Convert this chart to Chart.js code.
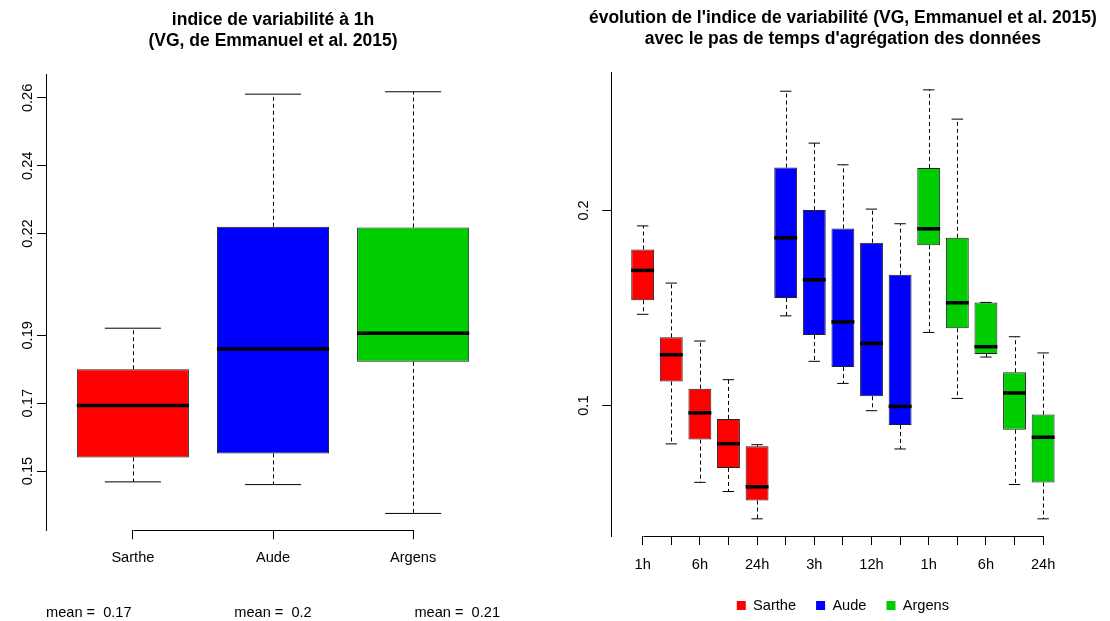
<!DOCTYPE html>
<html lang="fr">
<head>
<meta charset="UTF-8">
<title>Indice de variabilité</title>
<script src="https://cdn.jsdelivr.net/npm/chart.js"></script>
<style>
  body { margin: 0; background: #fff; }
  .row { position: relative; width: 1110px; height: 621px; overflow: hidden; }
  .panel { position: absolute; top: 0; width: 555px; height: 621px; }
  #left { left: 0; }
  #right { left: 555px; }
</style>
</head>
<body>
<div class="row">
  <div class="panel" id="left"><canvas id="chart1h"></canvas></div>
  <div class="panel" id="right"><canvas id="chartSteps"></canvas></div>
</div>
<script>
const rivers = ['Sarthe', 'Aude', 'Argens'];
const steps = ['1h', '3h', '6h', '12h', '24h'];

// five-number summaries per aggregation step: whisker low, Q1, median, Q3, whisker high
const sartheLow  = [0.1468, 0.0804, 0.0607, 0.0560, 0.0420];
const sartheQ1   = [0.1540, 0.1124, 0.0826, 0.0681, 0.0514];
const sartheMed  = [0.1693, 0.1261, 0.0963, 0.0805, 0.0584];
const sartheQ3   = [0.1800, 0.1350, 0.1087, 0.0932, 0.0792];
const sartheHigh = [0.1921, 0.1628, 0.1331, 0.1133, 0.0800];

const audeLow  = [0.1460, 0.1227, 0.1114, 0.0974, 0.0778];
const audeQ1   = [0.1552, 0.1362, 0.1198, 0.1048, 0.0901];
const audeMed  = [0.1860, 0.1645, 0.1429, 0.1319, 0.0996];
const audeQ3   = [0.2220, 0.2002, 0.1908, 0.1835, 0.1671];
const audeHigh = [0.2611, 0.2345, 0.2234, 0.2007, 0.1932];

const argensLow  = [0.1375, 0.1037, 0.1249, 0.0596, 0.0420];
const argensQ1   = [0.1822, 0.1396, 0.1265, 0.0876, 0.0606];
const argensMed  = [0.1906, 0.1527, 0.1302, 0.1065, 0.0838];
const argensQ3   = [0.2218, 0.1860, 0.1529, 0.1171, 0.0954];
const argensHigh = [0.2618, 0.2468, 0.1529, 0.1353, 0.1270];

const means1h = [0.17, 0.2, 0.21];
const ticks1h = [0.15, 0.17, 0.19, 0.22, 0.24, 0.26];
const ticksSteps = [0.1, 0.2];

const riverColors = ['#ff0000', '#0000ff', '#00cd00'];
const FONT = "'Liberation Sans', Arial, Helvetica, sans-serif";

Chart.defaults.font.family = FONT;
Chart.defaults.font.size = 14.6;
Chart.defaults.color = '#000';

const stats = [
  {low: sartheLow, q1: sartheQ1, med: sartheMed, q3: sartheQ3, high: sartheHigh},
  {low: audeLow, q1: audeQ1, med: audeMed, q3: audeQ3, high: audeHigh},
  {low: argensLow, q1: argensQ1, med: argensMed, q3: argensQ3, high: argensHigh}
];

// R-style axis range: data range stretched by 4% on each side
function paddedRange(lows, highs) {
  const lo = Math.min(...lows), hi = Math.max(...highs);
  const pad = (hi - lo) * 0.04;
  return {min: lo - pad, max: hi + pad};
}

// title and legend are centred over the plot region, not the whole canvas
const centreOverPlot = {
  id: 'centreOverPlot',
  afterLayout(chart) {
    const mid = (chart.chartArea.left + chart.chartArea.right) / 2;
    [chart.titleBlock, chart.legend].forEach(box => {
      if (!box) return;
      const shift = mid - (box.left + box.right) / 2;
      box.left += shift;
      box.right += shift;
    });
  }
};

// whiskers (dashed), staples and median bars on top of the floating bars
const boxWhiskers = {
  id: 'boxWhiskers',
  afterDatasetsDraw(chart) {
    const ctx = chart.ctx;
    const y = chart.scales.y;
    const seg = (x0, y0, x1, y1) => {
      ctx.beginPath();
      ctx.moveTo(x0, y0);
      ctx.lineTo(x1, y1);
      ctx.stroke();
    };
    ctx.save();
    ctx.strokeStyle = '#000';
    chart.data.datasets.forEach((ds, di) => {
      chart.getDatasetMeta(di).data.forEach((bar, i) => {
        const {x, width} = bar.getProps(['x', 'width'], true);
        const pLow = y.getPixelForValue(ds.low[i]);
        const pQ1 = y.getPixelForValue(ds.data[i].y[0]);
        const pQ3 = y.getPixelForValue(ds.data[i].y[1]);
        const pHigh = y.getPixelForValue(ds.high[i]);
        const pMed = y.getPixelForValue(ds.med[i]);
        const cx = Math.round(x) + 0.5;
        ctx.lineWidth = 1;
        ctx.setLineDash([4, 3]);
        seg(cx, pQ3, cx, pHigh);
        seg(cx, pQ1, cx, pLow);
        ctx.setLineDash([]);
        seg(x - width / 4, pHigh, x + width / 4, pHigh);
        seg(x - width / 4, pLow, x + width / 4, pLow);
        ctx.lineWidth = 3.5;
        seg(x - width / 2, pMed, x + width / 2, pMed);
      });
    });
    ctx.restore();
  }
};

// x axis line runs from the first tick to the last one only
const xAxisLine = {
  id: 'xAxisLine',
  afterDraw(chart) {
    const s = chart.scales.x;
    const t = s.ticks;
    const x0 = s.getPixelForValue(t[0].value);
    const x1 = s.getPixelForValue(t[t.length - 1].value);
    const yy = Math.round(s.top) + 0.5;
    const ctx = chart.ctx;
    ctx.save();
    ctx.strokeStyle = '#000';
    ctx.lineWidth = 1;
    ctx.beginPath();
    ctx.moveTo(Math.round(x0) + 0.5, yy);
    ctx.lineTo(Math.round(x1) + 0.5, yy);
    ctx.stroke();
    ctx.restore();
  }
};

// "mean = ..." notes under the left panel
const meanLabels = {
  id: 'meanLabels',
  afterDraw(chart) {
    const {left, right, bottom} = chart.chartArea;
    const spots = [[left, 'left'], [(left + right) / 2, 'center'], [right, 'right']];
    const ctx = chart.ctx;
    ctx.save();
    ctx.font = '14.6px ' + FONT;
    ctx.fillStyle = '#000';
    ctx.textBaseline = 'alphabetic';
    means1h.forEach((m, i) => {
      ctx.textAlign = spots[i][1];
      ctx.fillText('mean =  ' + m, spots[i][0], bottom + 86.4);
    });
    ctx.restore();
  }
};

function yAxis(range, tickValues, width, pad) {
  return {
    min: range.min,
    max: range.max,
    bounds: 'data',
    afterBuildTicks: s => { s.ticks = tickValues.map(v => ({value: v})); },
    afterFit: s => { s.width = width; },
    ticks: {minRotation: 90, maxRotation: 90, crossAlign: 'center', padding: pad, callback: v => String(v)},
    grid: {drawOnChartArea: false, tickLength: 9, color: '#000'},
    border: {display: true, color: '#000', width: 1}
  };
}

function xAxis(n, names, height, pad, every) {
  const positions = names.map((_, i) => i + 1);
  return {
    type: 'linear',
    min: 0.5 - 0.04 * n,
    max: n + 0.5 + 0.04 * n,
    bounds: 'data',
    offset: false,
    afterBuildTicks: s => { s.ticks = positions.map(v => ({value: v})); },
    afterFit: s => { s.height = height; },
    ticks: {autoSkip: false, maxRotation: 0, padding: pad,
      callback: (v, i) => (i % every === 0 ? names[i] : '')},
    grid: {drawOnChartArea: false, offset: false, tickLength: 9, color: '#000'},
    border: {display: false}
  };
}

// left panel: the three rivers at 1h
const range1h = paddedRange(stats.map(s => s.low[0]), stats.map(s => s.high[0]));
new Chart(document.getElementById('chart1h'), {
  type: 'bar',
  data: {
    datasets: [{
      label: '1h',
      data: rivers.map((r, i) => ({x: i + 1, y: [stats[i].q1[0], stats[i].q3[0]]})),
      low: stats.map(s => s.low[0]),
      med: stats.map(s => s.med[0]),
      high: stats.map(s => s.high[0]),
      backgroundColor: riverColors,
      borderColor: '#222',
      borderWidth: 1,
      borderSkipped: false,
      grouped: false,
      categoryPercentage: 1,
      barPercentage: 0.8
    }]
  },
  options: {
    responsive: true,
    maintainAspectRatio: false,
    animation: false,
    layout: {padding: {left: 0, right: 55, top: 0, bottom: 0}},
    plugins: {
      legend: {display: false},
      tooltip: {enabled: false},
      title: {
        display: true,
        text: ['indice de variabilité à 1h', '(VG, de Emmanuel et al. 2015)'],
        color: '#000',
        font: {size: 17.5, weight: 'bold'},
        padding: {top: 9.5, bottom: 23.4}
      }
    },
    scales: {
      x: xAxis(3, rivers, 90.7, 9.5, 1),
      y: yAxis(range1h, ticks1h, 46, -4.7)
    }
  },
  plugins: [centreOverPlot, boxWhiskers, xAxisLine, meanLabels]
});

// right panel: every river at every aggregation step
const stepNames = rivers.flatMap(() => steps);
const rangeSteps = paddedRange(stats.flatMap(s => s.low), stats.flatMap(s => s.high));
new Chart(document.getElementById('chartSteps'), {
  type: 'bar',
  data: {
    datasets: rivers.map((river, r) => ({
      label: river,
      data: steps.map((s, i) => ({x: r * steps.length + i + 1, y: [stats[r].q1[i], stats[r].q3[i]]})),
      low: stats[r].low,
      med: stats[r].med,
      high: stats[r].high,
      backgroundColor: riverColors[r],
      borderColor: '#222',
      borderWidth: 1,
      borderSkipped: false,
      grouped: false,
      categoryPercentage: 1,
      barPercentage: 0.8
    }))
  },
  options: {
    responsive: true,
    maintainAspectRatio: false,
    animation: false,
    layout: {padding: {left: 0, right: 35.4, top: 0, bottom: -1.9}},
    plugins: {
      tooltip: {enabled: false},
      title: {
        display: true,
        text: ["évolution de l'indice de variabilité (VG, Emmanuel et al. 2015)",
               "avec le pas de temps d'agrégation des données"],
        color: '#000',
        font: {size: 17.5, weight: 'bold'},
        padding: {top: 7.5, bottom: 23.2}
      },
      legend: {
        display: true,
        position: 'bottom',
        labels: {
          boxWidth: 9,
          boxHeight: 9,
          padding: 20,
          color: '#000',
          generateLabels: chart => chart.data.datasets.map((ds, i) => ({
            text: ds.label,
            fillStyle: ds.backgroundColor,
            strokeStyle: ds.backgroundColor,
            lineWidth: 0,
            hidden: false,
            datasetIndex: i
          }))
        }
      }
    },
    scales: {
      x: xAxis(15, stepNames, 42.3, 11.2, 2),
      y: yAxis(rangeSteps, ticksSteps, 56.2, 7.85)
    }
  },
  plugins: [centreOverPlot, boxWhiskers, xAxisLine]
});
</script>
</body>
</html>
